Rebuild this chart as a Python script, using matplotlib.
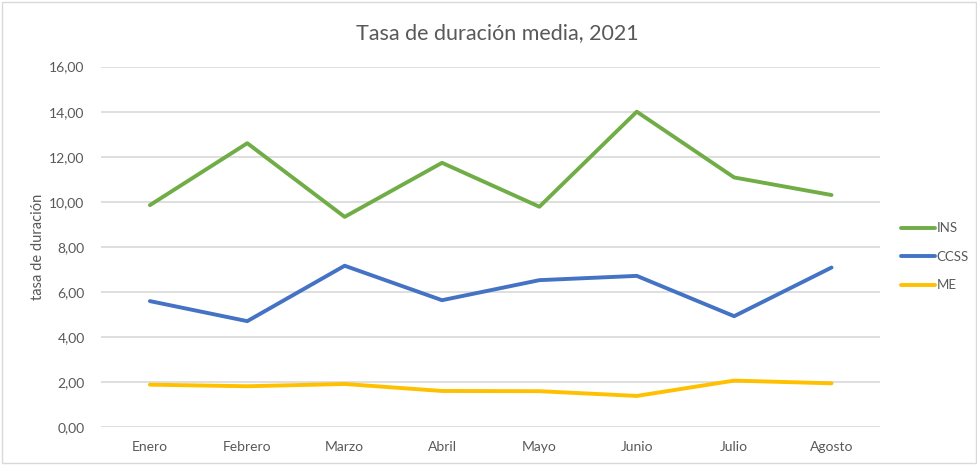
import matplotlib
matplotlib.use("Agg")
import matplotlib.pyplot as plt
from matplotlib.patches import Rectangle

plt.rcParams['font.family'] = ['Lato', 'DejaVu Sans']

meses = ["Enero", "Febrero", "Marzo", "Abril", "Mayo", "Junio", "Julio", "Agosto"]
ins = [9.85, 12.60, 9.33, 11.73, 9.78, 14.00, 11.08, 10.30]
ccss = [5.59, 4.70, 7.16, 5.63, 6.52, 6.71, 4.92, 7.08]
me = [1.88, 1.81, 1.91, 1.60, 1.59, 1.38, 2.06, 1.94]
yticks = [0, 2, 4, 6, 8, 10, 12, 14, 16]

fig = plt.figure(figsize=(9.78, 4.65), dpi=100)
ax = fig.add_axes([0.1035, 0.0817, 0.7965, 0.775])

x = range(len(meses))
ax.plot(x, ins, color="#70AD47", lw=2.8, label="INS", solid_capstyle="round")
ax.plot(x, ccss, color="#4472C4", lw=2.8, label="CCSS", solid_capstyle="round")
ax.plot(x, me, color="#FFC000", lw=2.8, label="ME", solid_capstyle="round")

ax.set_xlim(-0.5, len(meses) - 0.5)
ax.set_ylim(0, 16)
ax.set_yticks(yticks)
ax.set_yticklabels([f"{v:.2f}".replace(".", ",") for v in yticks])
ax.set_xticks(list(x))
ax.set_xticklabels(meses)
ax.tick_params(length=0, labelsize=10, colors="#595959", pad=10)
ax.tick_params(axis="y", pad=12)
ax.grid(axis="y", color="#D9D9D9", lw=1.2)
ax.set_axisbelow(True)
for s in ax.spines.values():
    s.set_visible(False)

ax.set_ylabel("tasa de duración", fontsize=10.5, color="#595959", labelpad=3)
fig.text(0.508, 0.928, "Tasa de duración media, 2021", ha="center", va="center",
         fontsize=15.5, color="#595959")

ax.legend(loc="center left", bbox_to_anchor=(1.015, 0.472), frameon=False,
          fontsize=9.5, labelcolor="#595959", handlelength=2.6, handletextpad=0.1,
          labelspacing=1.25, borderaxespad=0.3)

fig.patches.append(Rectangle((0.002, 0.004), 0.996, 0.992, transform=fig.transFigure,
                             fill=False, edgecolor="#D9D9D9", lw=1))

fig.savefig("out.png", dpi=100)
